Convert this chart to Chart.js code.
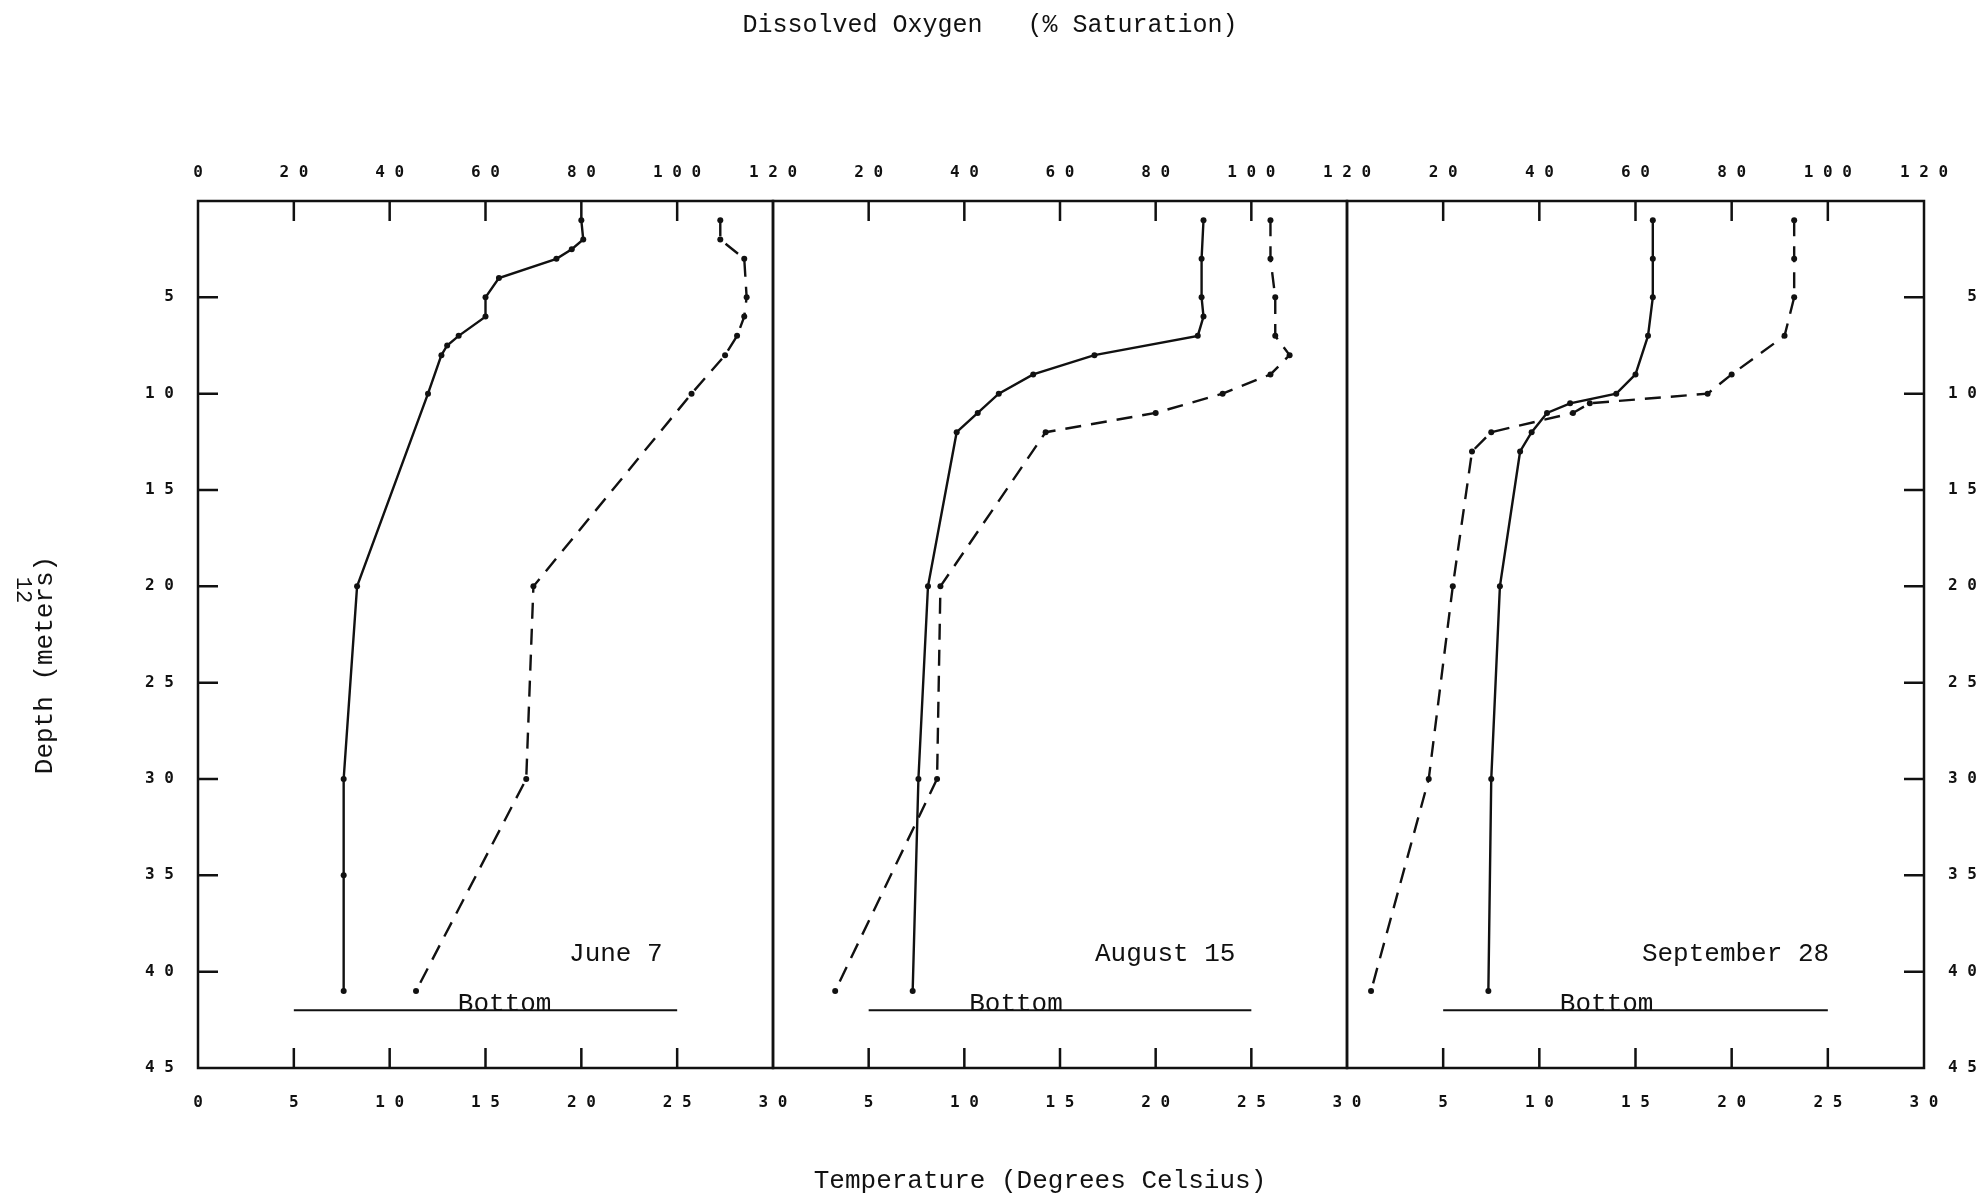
<!DOCTYPE html>
<html lang="en">
<head>
<meta charset="UTF-8">
<title>Dissolved Oxygen and Temperature Profiles</title>
<script src="https://cdn.jsdelivr.net/npm/chart.js@4.4.0/dist/chart.umd.min.js"></script>
<style>
  body { margin: 0; background: #fff; }
  #wrap { position: relative; width: 1982px; height: 1194px; overflow: hidden; }
  #wrap canvas { position: absolute; left: 0; top: 0; }
  .txt { position: absolute; font-family: 'Liberation Mono', 'DejaVu Sans Mono', monospace; color: #111;
         white-space: pre; transform: translate(-50%, -50%); line-height: 1; }
</style>
</head>
<body>
<div id="wrap">
  <canvas id="p1" width="1982" height="1194"></canvas>
  <canvas id="p2" width="1982" height="1194"></canvas>
  <canvas id="p3" width="1982" height="1194"></canvas>
  <div class="txt" style="left:990px; top:25px; font-size:25px;">Dissolved Oxygen   (% Saturation)</div>
  <div class="txt" style="left:1040px; top:1181px; font-size:26px;">Temperature (Degrees Celsius)</div>
  <div class="txt" style="left:45px; top:665px; font-size:26px; transform:translate(-50%,-50%) rotate(-90deg);">Depth (meters)</div>
  <div class="txt" style="left:22px; top:590px; font-size:22px; transform:translate(-50%,-50%) rotate(90deg);">12</div>
</div>

<script>
// June 7
const junDepthT = [1, 2, 2.5, 3, 4, 5, 6, 7, 7.5, 8, 10, 20, 30, 35, 41];
const junTemp   = [20.0, 20.1, 19.5, 18.7, 15.7, 15.0, 15.0, 13.6, 13.0, 12.7, 12.0, 8.3, 7.6, 7.6, 7.6];
const junDepthO = [1, 2, 3, 5, 6, 7, 8, 10, 20, 30, 41];
const junDO     = [109, 109, 114, 114.5, 114, 112.5, 110, 103, 70, 68.5, 45.5];

// August 15
const augDepthT = [1, 3, 5, 6, 7, 8, 9, 10, 11, 12, 20, 30, 41];
const augTemp   = [22.5, 22.4, 22.4, 22.5, 22.2, 16.8, 13.6, 11.8, 10.7, 9.6, 8.1, 7.6, 7.3];
const augDepthO = [1, 3, 5, 7, 8, 9, 10, 11, 12, 20, 30, 41];
const augDO     = [104, 104, 105, 105, 108, 104, 94, 80, 57, 35, 34.3, 13];

// September 28
const sepDepthT = [1, 3, 5, 7, 9, 10, 10.5, 11, 12, 13, 20, 30, 41];
const sepTemp   = [15.9, 15.9, 15.9, 15.65, 15.0, 14.0, 11.6, 10.4, 9.6, 9.0, 7.95, 7.5, 7.35];
const sepDepthO = [1, 3, 5, 7, 9, 10, 10.5, 11, 12, 13, 20, 30, 41];
const sepDO     = [93, 93, 93, 91, 80, 75, 50.5, 47, 30, 26, 22, 17, 5];

// lake bottom marker (depth, temperature span)
const bottomDepth = 42;
const bottomSpan = [5, 25];

const panelNames = ['June 7', 'August 15', 'September 28'];
const bottomLabelAt = [16.0, 12.7, 13.5];   // temperature units
const nameLabelAt = [21.8, 20.5, 20.2];

const pts = (xs, ys) => xs.map((x, i) => ({ x: x, y: ys[i] }));
const spaced = v => String(v).split('').join(' ');
const FONT_T = "'Liberation Mono', 'DejaVu Sans Mono', monospace";
const INK = '#111';

const framePlugin = {
  id: 'frame',
  afterDraw(chart, args, opts) {
    const { ctx, chartArea: a, scales } = chart;
    ctx.save();
    ctx.strokeStyle = INK;
    ctx.lineWidth = 2.5;
    ctx.strokeRect(a.left, a.top, a.right - a.left, a.bottom - a.top);
    ctx.beginPath();
    [20, 40, 60, 80, 100].forEach(v => {
      const x = scales.x.getPixelForValue(v);
      ctx.moveTo(x, a.top); ctx.lineTo(x, a.top + 20);
    });
    [5, 10, 15, 20, 25].forEach(v => {
      const x = scales.x2.getPixelForValue(v);
      ctx.moveTo(x, a.bottom); ctx.lineTo(x, a.bottom - 20);
    });
    if (opts.depthTicks) {
      [5, 10, 15, 20, 25, 30, 35, 40].forEach(v => {
        const y = scales.y.getPixelForValue(v);
        if (opts.depthTicks === 'left') { ctx.moveTo(a.left, y); ctx.lineTo(a.left + 20, y); }
        else { ctx.moveTo(a.right, y); ctx.lineTo(a.right - 20, y); }
      });
    }
    ctx.stroke();

    ctx.fillStyle = INK;
    ctx.font = '26px ' + FONT_T;
    ctx.textAlign = 'center';
    ctx.textBaseline = 'middle';
    ctx.fillText(opts.name, scales.x2.getPixelForValue(opts.nameAt), scales.y.getPixelForValue(39.1));
    ctx.textBaseline = 'alphabetic';
    ctx.fillText('Bottom', scales.x2.getPixelForValue(opts.bottomAt), scales.y.getPixelForValue(bottomDepth) + 1);
    ctx.restore();
  }
};

function makePanel(id, idx, tempPts, doPts, geo) {
  const first = idx === 0;
  const tickFont = { family: "'DejaVu Sans Mono', monospace", size: 16, weight: 'bold' };
  const axisBase = { type: 'linear', grid: { display: false, drawTicks: false }, border: { display: false } };
  new Chart(document.getElementById(id), {
    type: 'scatter',
    data: {
      datasets: [
        { data: tempPts, xAxisID: 'x2', yAxisID: 'y', showLine: true, borderColor: INK, borderWidth: 2.4,
          pointRadius: 3, pointBackgroundColor: INK, pointBorderWidth: 0, tension: 0 },
        { data: doPts, xAxisID: 'x', yAxisID: 'y', showLine: true, borderColor: INK, borderWidth: 2.4,
          borderDash: [16, 10], pointRadius: 3, pointBackgroundColor: INK, pointBorderWidth: 0, tension: 0 },
        { data: [{ x: bottomSpan[0], y: bottomDepth }, { x: bottomSpan[1], y: bottomDepth }],
          xAxisID: 'x2', yAxisID: 'y', showLine: true, borderColor: INK, borderWidth: 2, pointRadius: 0 }
      ]
    },
    options: {
      responsive: false,
      animation: false,
      layout: { padding: { left: geo.padLeft, right: geo.padRight, top: 0, bottom: 0 } },
      plugins: {
        legend: { display: false },
        tooltip: { enabled: false },
        frame: { depthTicks: geo.depthTicks, name: panelNames[idx], nameAt: nameLabelAt[idx], bottomAt: bottomLabelAt[idx] }
      },
      scales: {
        x: { ...axisBase, position: 'top', min: 0, max: 120,
             ticks: { stepSize: 20, padding: 19, color: INK, font: tickFont, maxRotation: 0,
                      callback: v => (v === 0 && !first) ? null : spaced(v) },
             afterFit: s => { s.height = 201; } },
        x2: { ...axisBase, position: 'bottom', min: 0, max: 30,
              ticks: { stepSize: 5, padding: 25, color: INK, font: tickFont, maxRotation: 0,
                       callback: v => (v === 0 && !first) ? null : spaced(v) },
              afterFit: s => { s.height = 126; } },
        y: { ...axisBase, position: 'left', reverse: true, min: 0, max: 45, display: geo.leftAxis,
             ticks: { stepSize: 5, padding: 24, color: INK, font: tickFont, callback: v => v === 0 ? null : spaced(v) },
             afterFit: s => { s.width = geo.leftAxis ? 198 : 0; } },
        y2: { ...axisBase, position: 'right', reverse: true, min: 0, max: 45, display: geo.rightAxis,
              ticks: { stepSize: 5, crossAlign: 'far', color: INK, font: tickFont, callback: v => v === 0 ? null : spaced(v) },
              afterFit: s => { s.width = geo.rightAxis ? 53 : 0; } }
      }
    },
    plugins: [framePlugin]
  });
}

makePanel('p1', 0, pts(junTemp, junDepthT), pts(junDO, junDepthO),
  { padLeft: 0, padRight: 1982 - 773, leftAxis: true, rightAxis: false, depthTicks: 'left' });
makePanel('p2', 1, pts(augTemp, augDepthT), pts(augDO, augDepthO),
  { padLeft: 773, padRight: 1982 - 1347, leftAxis: false, rightAxis: false, depthTicks: null });
makePanel('p3', 2, pts(sepTemp, sepDepthT), pts(sepDO, sepDepthO),
  { padLeft: 1347, padRight: 5, leftAxis: false, rightAxis: true, depthTicks: 'right' });
</script>
</body>
</html>
